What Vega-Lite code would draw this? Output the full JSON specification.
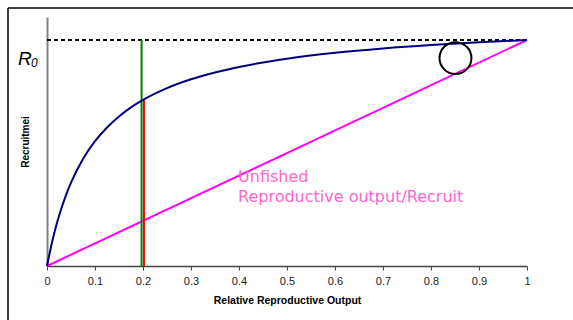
{
  "$schema": "https://vega.github.io/schema/vega-lite/v6.json",
  "width": 480,
  "height": 249,
  "autosize": "none",
  "padding": {"left": 47, "top": 17, "right": 46, "bottom": 54},
  "background": "white",
  "config": {"view": {"stroke": null}, "axis": {"grid": false}},
  "datasets": {
    "frame": [
      {"x": -0.08125, "x2": 1.2, "y": 1.1416, "y2": 1.1416},
      {"x": -0.08125, "x2": -0.08125, "y": 1.1416, "y2": -0.4}
    ],
    "dashed": [{"x": 0, "x2": 1, "y": 1, "y2": 1}],
    "green": [{"x": 0.197, "x2": 0.197, "y": 0, "y2": 1}],
    "red": [{"x": 0.202, "x2": 0.202, "y": 0, "y2": 0.735}],
    "pink": [{"x": 0, "y": 0}, {"x": 1, "y": 1}],
    "blue": [
      {"x": 0, "y": 0}, {"x": 0.01, "y": 0.1008}, {"x": 0.02, "y": 0.1846},
      {"x": 0.03, "y": 0.2555}, {"x": 0.04, "y": 0.3161}, {"x": 0.05, "y": 0.3687},
      {"x": 0.075, "y": 0.4736}, {"x": 0.1, "y": 0.5521}, {"x": 0.125, "y": 0.6131},
      {"x": 0.15, "y": 0.6619}, {"x": 0.175, "y": 0.7018}, {"x": 0.2, "y": 0.735},
      {"x": 0.25, "y": 0.7871}, {"x": 0.3, "y": 0.8262}, {"x": 0.35, "y": 0.8566},
      {"x": 0.4, "y": 0.8809}, {"x": 0.5, "y": 0.9173}, {"x": 0.6, "y": 0.9433},
      {"x": 0.7, "y": 0.9628}, {"x": 0.8, "y": 0.978}, {"x": 0.9, "y": 0.9901},
      {"x": 1, "y": 1}
    ],
    "circle": [{"x": 0.851, "y": 0.92}],
    "rlabel": [{"x": -0.0604, "y": 0.889, "text": "R"}],
    "sublabel": [{"x": -0.0333, "y": 0.8805, "text": "0"}],
    "note": [
      {"x": 0.398, "y": 0.372, "text": "Unfished"},
      {"x": 0.398, "y": 0.283, "text": "Reproductive output/Recruit"}
    ]
  },
  "encoding": {
    "x": {
      "field": "x", "type": "quantitative",
      "scale": {"domain": [0, 1], "nice": false, "zero": false},
      "axis": {
        "title": "Relative Reproductive Output",
        "values": [0, 0.1, 0.2, 0.3, 0.4, 0.5, 0.6, 0.7, 0.8, 0.9, 1],
        "format": "~g",
        "labelFont": "Liberation Sans", "labelFontSize": 11, "labelColor": "#222222",
        "labelPadding": 5, "labelFlush": false,
        "tickSize": 4, "tickColor": "#444444", "domainColor": "#444444", "domainWidth": 1.5,
        "titleFont": "Liberation Sans", "titleFontSize": 10.5, "titleFontWeight": "bold",
        "titleColor": "black", "titlePadding": 9
      }
    },
    "y": {
      "field": "y", "type": "quantitative",
      "scale": {"domain": [0, 1.1018], "nice": false, "zero": false},
      "axis": {
        "title": "Recruitmei", "labels": false, "ticks": false,
        "domainColor": "#808080", "domainWidth": 2,
        "titleFont": "Liberation Sans", "titleFontSize": 10, "titleFontWeight": "bold",
        "titleColor": "black", "titlePadding": 17
      }
    }
  },
  "layer": [
    {"data": {"name": "frame"}, "mark": {"type": "rule", "color": "black", "strokeWidth": 1.5},
     "encoding": {"x2": {"field": "x2"}, "y2": {"field": "y2"}}},
    {"data": {"name": "dashed"}, "mark": {"type": "rule", "color": "black", "strokeWidth": 2.2, "strokeDash": [4, 3]},
     "encoding": {"x2": {"field": "x2"}, "y2": {"field": "y2"}}},
    {"data": {"name": "pink"}, "mark": {"type": "line", "color": "#ff00ff", "strokeWidth": 2}, "encoding": {}},
    {"data": {"name": "green"}, "mark": {"type": "rule", "color": "#008000", "strokeWidth": 2},
     "encoding": {"x2": {"field": "x2"}, "y2": {"field": "y2"}}},
    {"data": {"name": "red"}, "mark": {"type": "rule", "color": "#ff0000", "strokeWidth": 2},
     "encoding": {"x2": {"field": "x2"}, "y2": {"field": "y2"}}},
    {"data": {"name": "blue"}, "mark": {"type": "line", "color": "#000080", "strokeWidth": 2, "interpolate": "monotone"}, "encoding": {}},
    {"data": {"name": "circle"}, "mark": {"type": "point", "shape": "circle", "filled": false, "size": 1018, "stroke": "black", "strokeWidth": 2, "opacity": 1}, "encoding": {}},
    {"data": {"name": "rlabel"}, "mark": {"type": "text", "align": "left", "baseline": "alphabetic", "font": "Liberation Sans", "fontStyle": "italic", "fontSize": 19, "color": "black"},
     "encoding": {"text": {"field": "text"}}},
    {"data": {"name": "sublabel"}, "mark": {"type": "text", "align": "left", "baseline": "alphabetic", "font": "Liberation Sans", "fontStyle": "italic", "fontSize": 12, "color": "black"},
     "encoding": {"text": {"field": "text"}}},
    {"data": {"name": "note"}, "mark": {"type": "text", "align": "left", "baseline": "alphabetic", "font": "DejaVu Sans", "fontSize": 16, "color": "#ff66cc"},
     "encoding": {"text": {"field": "text"}}}
  ]
}
